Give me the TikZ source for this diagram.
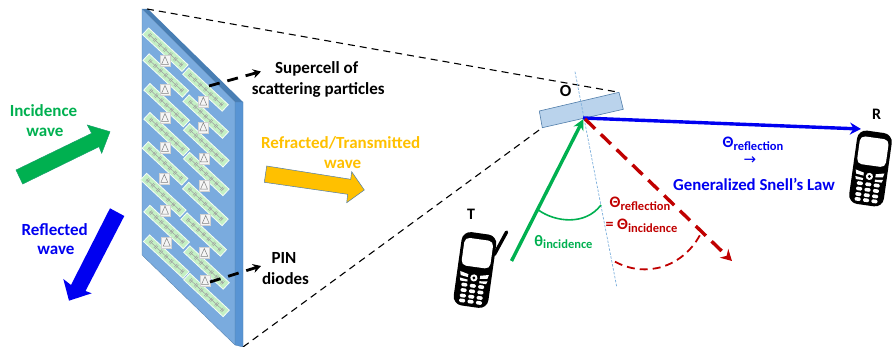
\documentclass[tikz,border=0pt]{standalone}
\usepackage{fontspec}
\setmainfont{Carlito}
\newfontfamily\arrowfont{DejaVu Sans}
\usetikzlibrary{arrows.meta}
\definecolor{faceblue}{RGB}{122,171,222}
\definecolor{topblue}{RGB}{72,126,180}
\definecolor{sideblue}{RGB}{88,148,212}
\definecolor{edgeblue}{RGB}{80,125,170}
\definecolor{mirrorblue}{RGB}{186,211,236}
\definecolor{normalblue}{RGB}{125,175,220}
\definecolor{stripgreen}{RGB}{196,240,196}
\definecolor{wavegreen}{RGB}{0,176,80}
\definecolor{waveblue}{RGB}{0,0,240}
\definecolor{waveyellow}{RGB}{255,192,0}
\definecolor{wavered}{RGB}{192,0,0}
\newcommand{\fsz}[1]{\fontsize{#1}{#1}\selectfont}
\newcommand{\lowsub}[1]{\raisebox{-2.5pt}{\fsz{12.5}#1}}
\tikzset{
  lbl/.style={font=\fsz{17}\bfseries,inner sep=0pt,anchor=center},
  wavearrow/.style={draw=edgeblue,line width=.5pt,line join=miter},
  thindash/.style={draw=black,line width=1.1pt,dash pattern=on 7pt off 5pt},
  thickdash/.style={draw=black,line width=2.8pt,dash pattern=on 11pt off 8pt,-{Stealth[length=8pt,width=9pt]}},
  normalline/.style={draw=normalblue,line width=.7pt,dash pattern=on 2.5pt off 1.5pt},
  beam/.style={line width=3.4pt},
  stripbox/.style={fill=stripgreen,draw=white!85!stripgreen,line width=.8pt},
  stripmark/.style={draw=black!38,line width=.5pt},
  diodebox/.style={fill=white!96!black,draw=black!18,line width=.5pt},
  diodemark/.style={draw=black!50,line width=.5pt},
  phone/.pic={
    \fill[black,rounded corners=9pt] (-17.5,-37) rectangle (17.5,37);
    \fill[white,rounded corners=5pt] (-14.5,-31) rectangle (14.5,-3);
    \fill[white] (-14.5,3) -- (-6,5) -- (-6,8) -- (-13.5,7) -- cycle;
    \fill[white] (14.5,3) -- (6,5) -- (6,8) -- (13.5,7) -- cycle;
    \fill[white] (-14,9.5) -- (-6,10.5) -- (-6,12.5) -- (-13,12.5) -- cycle;
    \fill[white] (14,9.5) -- (6,10.5) -- (6,12.5) -- (13,12.5) -- cycle;
    \fill[white] (0,8) circle (3.6);
    \fill[black] (0,8) circle (1.6);
    \foreach \ky in {16,21.5,27,32}
      \foreach \kx in {-8.5,0,8.5}
        \fill[white,rounded corners=1.2pt] (\kx-3,\ky-1.8) rectangle (\kx+3,\ky+1.8);
  }
}
\newcommand{\cellstrip}[2]{%
  \begin{scope}[shift={(#1,#2)},rotate=-43]
    \path[stripbox] (-27,-4.5) rectangle (27,4.5);
    \draw[stripmark] (-23,0) -- (23,0);
    \foreach \m in {-22,-15,-8,-1,6,13,21}
      \draw[stripmark] (\m,-2.2) -- (\m,2.2) (\m+1.6,-2.2) -- (\m+1.6,2.2);
  \end{scope}}
\newcommand{\diode}[2]{%
  \begin{scope}[shift={(#1,#2)}]
    \path[diodebox] (-5,-5.5) rectangle (5,5.5);
    \draw[diodemark] (0,-4.5) -- (-3.5,3.5) -- (3.5,3.5) -- cycle;
  \end{scope}}
\begin{document}
\begin{tikzpicture}[x=1pt,y=-1pt]
\useasboundingbox (0,0) rectangle (892,347);
% panel
\fill[topblue] (142,9) -- (148,9) -- (243,102) -- (235,102) -- cycle;
\fill[sideblue,draw=edgeblue,line width=.3pt] (235,102) -- (243,102) -- (243,347) -- (235,345) -- cycle;
\fill[faceblue,draw=edgeblue,line width=.3pt] (142,9) -- (235,102) -- (235,345) -- (142,255) -- cycle;
\foreach \cx/\cy in {165.3/49.7,165.8/75.5,166.6/105.2,166.6/134.2,165/163.4,163.3/195,166.6/227,166.3/256.6,
  205.5/89.5,205.8/116.6,206.3/145.3,206.3/174,205.4/204,203.7/234.5,206.5/267.5,206.5/295}
  {\cellstrip{\cx}{\cy}}
\foreach \dx/\dy in {165/61,165/90,165/118,165/148,164.3/179,165/210.7,166.7/242.7,
  203.3/101.7,203.3/127.3,204/158.3,204/185.7,205.7/220,204.3/253,205/281}
  {\diode{\dx}{\dy}}
% wave arrows
\fill[wavegreen,wavearrow,draw=wavegreen!70!edgeblue] (16,170) -- (91.7,133.3) -- (87.3,125) -- (110,131.7) -- (101.7,153.3) -- (99,146.7) -- (22.7,184) -- cycle;
\fill[waveblue] (110,208.3) -- (124.3,216) -- (85.5,291) -- (91.7,293.3) -- (69,300.7) -- (63.3,279) -- (71,285) -- cycle;
\fill[waveyellow,wavearrow] (266.7,166) -- (350.7,179.3) -- (351.7,171.7) -- (364.3,190) -- (346.7,202.7) -- (347.7,194.3) -- (264.3,182.3) -- cycle;
% wave labels
\node[lbl,text=wavegreen] (inc1) at (43.5,111) {Incidence};
\node[lbl,text=wavegreen] (inc2) at (45,132) {wave};
\node[lbl,text=waveblue] (ref1) at (54.7,229.5) {Reflected};
\node[lbl,text=waveblue] (ref2) at (56,250.5) {wave};
\node[lbl,text=waveyellow] (tr1) at (340.7,143) {Refracted/Transmitted};
\node[lbl,text=waveyellow] (tr2) at (342.7,164) {wave};
\node[lbl] (sc1) at (316.7,68.5) {Supercell of};
\node[lbl] (sc2) at (318.3,89.5) {scattering particles};
\node[lbl] (pin1) at (284,258) {PIN};
\node[lbl] (pin2) at (285.5,279) {diodes};
% callouts
\coordinate (scfrom) at (209,86);
\coordinate (scto) at (261,71.5);
\coordinate (pinfrom) at (210,282);
\coordinate (pinto) at (261,266);
\draw[thickdash] (scfrom) -- (scto);
\draw[thickdash] (pinfrom) -- (pinto);
% mirror and frustum
\coordinate (ptop) at (147,9);
\coordinate (pbot) at (243,347);
\coordinate (mtl) at (539.3,111);
\coordinate (mtr) at (619,92.3);
\coordinate (mbr) at (623.3,109.3);
\coordinate (mbl) at (542.3,127.7);
\coordinate (hit) at (583,118);
\draw[thindash] (ptop) -- (mtr);
\draw[thindash] (pbot) -- (mbl);
\fill[mirrorblue,draw=edgeblue,line width=.6pt] (mtl) -- (mtr) -- (mbr) -- (mbl) -- cycle;
\coordinate (ntop) at (575,71.7);
\coordinate (nbot) at (616.7,286.7);
\draw[normalline] (ntop) -- (nbot);
\node[lbl,font=\fsz{17}\bfseries] (O) at (565.7,91) {O};
\node[lbl,font=\fsz{16}\bfseries] (T) at (471,214.5) {T};
\node[lbl,font=\fsz{16}\bfseries] (R) at (876.5,114.5) {R};
% beams
\coordinate (tx) at (511.5,261);
\coordinate (rx) at (861,129);
\coordinate (rf) at (732,261);
\draw[beam,draw=waveblue,-{Stealth[length=11pt,width=12pt]}] (hit) -- (rx);
\draw[beam,draw=wavegreen,-{Stealth[length=11pt,width=11pt]}] (tx) -- (583.5,119);
\draw[beam,draw=wavered,dash pattern=on 14pt off 8pt,-{Stealth[length=11pt,width=12pt]}] (585,119) -- (rf);
\coordinate (ga) at (538.3,210);
\coordinate (gb) at (601,205);
\coordinate (ra) at (615,261.7);
\coordinate (rb) at (700,235);
\draw[draw=wavegreen,line width=1.6pt] (ga) .. controls (555,222) and (585,226) .. (gb);
\draw[draw=wavered,line width=1.8pt,dash pattern=on 8pt off 5pt] (ra) .. controls (645,278) and (682,268) .. (rb);
% angle labels
\node[lbl,text=wavegreen] (ti) at (563.5,242) {\fsz{16}θ\lowsub{incidence}};
\node[lbl,text=wavered] (tr) at (640,204) {\fsz{16}Θ\lowsub{reflection}};
\node[lbl,text=wavered] (te) at (641.5,226) {\fsz{16}= Θ\lowsub{incidence}};
\node[lbl,text=waveblue] (bt) at (753,144) {\fsz{16}Θ\lowsub{reflection}};
\node[lbl,text=waveblue] (ba) at (750,161) {\fsz{15}\arrowfont\mdseries →};
\node[lbl,text=waveblue,font=\fsz{16.8}\bfseries] (gs) at (754,184) {Generalized Snell’s Law};
% phones
\begin{scope}[shift={(475,270)},rotate=-8]
  \draw[black,line width=3.4pt,line cap=round] (26,-42) -- (17,-18);
  \pic[transform shape] {phone};
\end{scope}
\begin{scope}[shift={(870.5,168.5)},rotate=-8]
  \pic[transform shape] {phone};
\end{scope}
\end{tikzpicture}
\end{document}
